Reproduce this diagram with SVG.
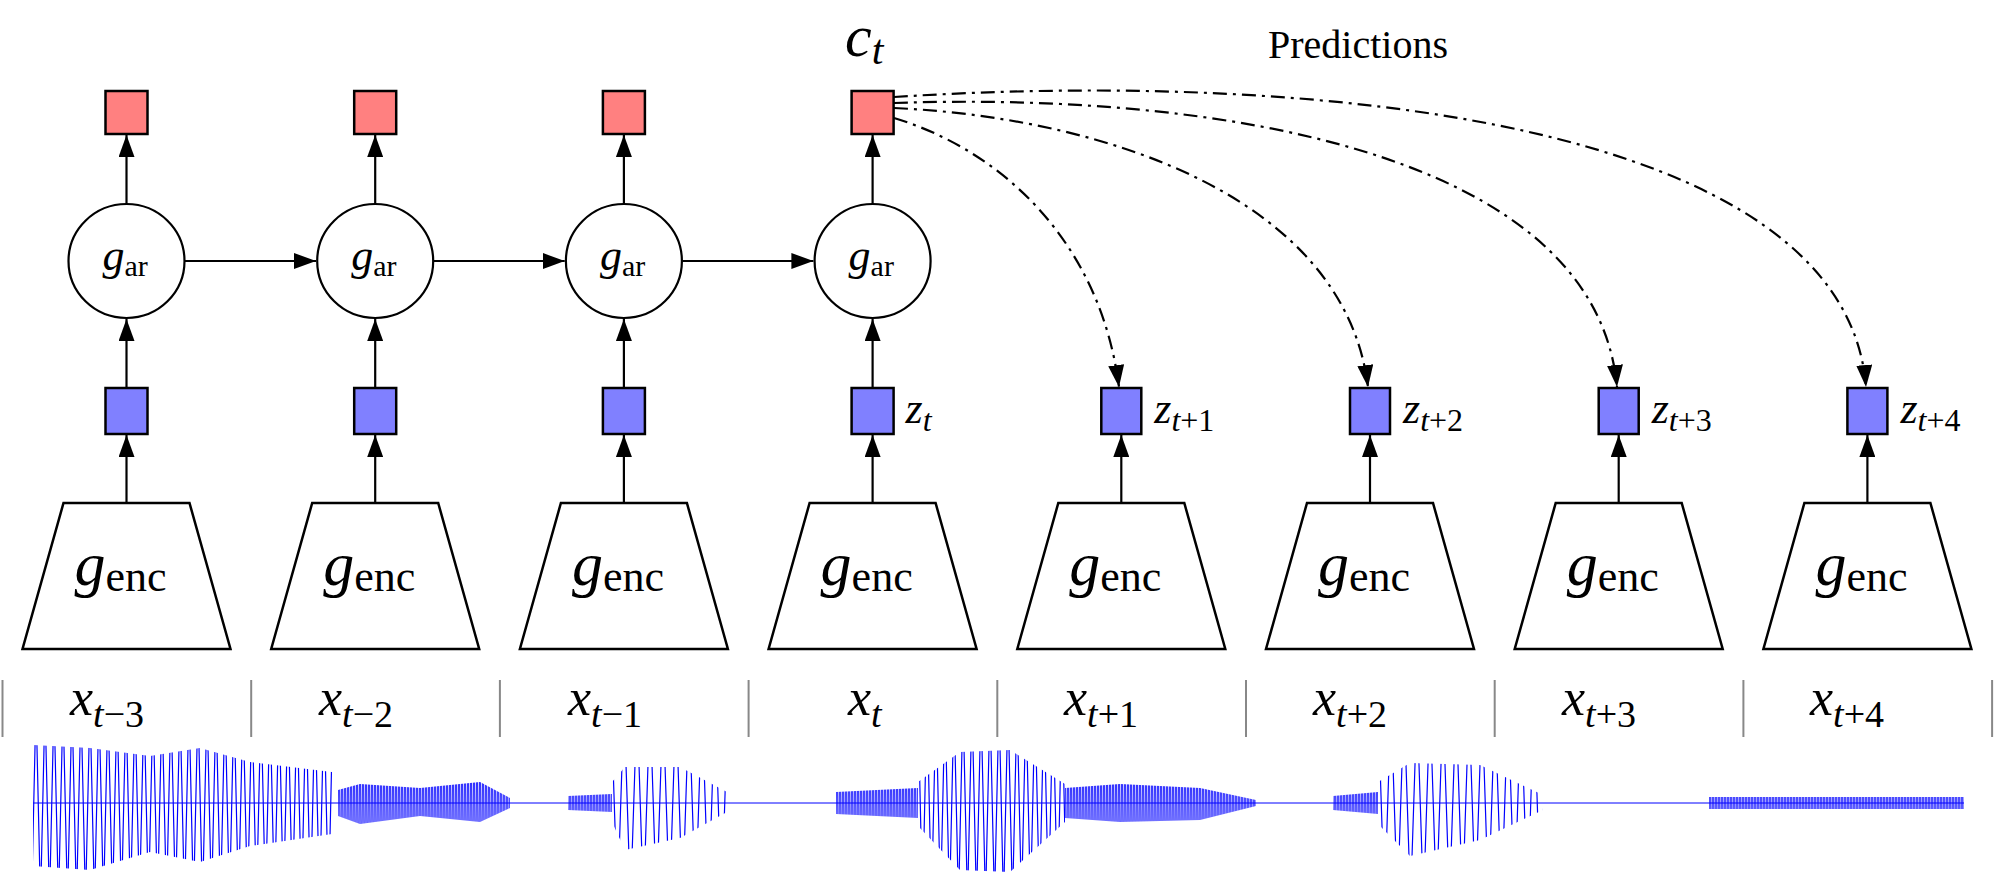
<svg xmlns="http://www.w3.org/2000/svg" width="2000" height="885" viewBox="0 0 2000 885">
<style>
.red{fill:#ff8080;stroke:#000;stroke-width:2.5}
.blue{fill:#8080ff;stroke:#000;stroke-width:2.5}
.circ{fill:#fff;stroke:#000;stroke-width:2.2}
.enc{fill:#fff;stroke:#000;stroke-width:2.5;stroke-linejoin:miter}
.ar{stroke:#000;stroke-width:2.2;fill:none;marker-end:url(#ah)}
.pred{stroke:#000;stroke-width:2.2;fill:none;stroke-dasharray:14 6 3 6;marker-end:url(#ah)}
.sep{stroke:#888;stroke-width:2}
.lbl{font-family:"Liberation Serif","DejaVu Serif",serif;fill:#000}
.m{font-family:"Liberation Serif","DejaVu Serif",serif;font-style:italic;fill:#000}
.r{font-style:normal}
</style>
<defs>
<marker id="ah" markerUnits="userSpaceOnUse" markerWidth="24" markerHeight="16" refX="22" refY="8" orient="auto"><path d="M0 0 L22 8 L0 16 z" fill="#000"/></marker>
<pattern id="osc" patternUnits="userSpaceOnUse" x="0" y="703" width="9" height="200"><path d="M0 0 L4.5 200 L9 0" fill="none" stroke="#0000ff" stroke-width="1.2"/></pattern>
<pattern id="osc2" patternUnits="userSpaceOnUse" x="0" y="703" width="13" height="200"><path d="M0 0 L6.5 200 L13 0" fill="none" stroke="#0000ff" stroke-width="1.2"/></pattern>
<pattern id="noise" patternUnits="userSpaceOnUse" x="0" y="703" width="3" height="200"><path d="M0 0 L1.5 200 L3 0" fill="none" stroke="#0000ff" stroke-width="0.9"/></pattern>
<g id="gar"><text class="m" x="-24" y="270" font-size="44">g<tspan class="r" font-size="30" dy="6">ar</tspan></text></g>
<g id="genc"><text class="m" x="-52" y="585" font-size="62">g<tspan class="r" font-size="44" dy="6">enc</tspan></text></g>
</defs>

<g id="connectors">
<line class="ar" x1="126.5" y1="204" x2="126.5" y2="135"/>
<line class="ar" x1="375.2" y1="204" x2="375.2" y2="135"/>
<line class="ar" x1="623.9" y1="204" x2="623.9" y2="135"/>
<line class="ar" x1="872.6" y1="204" x2="872.6" y2="135"/>
<line class="ar" x1="126.5" y1="388" x2="126.5" y2="319"/>
<line class="ar" x1="375.2" y1="388" x2="375.2" y2="319"/>
<line class="ar" x1="623.9" y1="388" x2="623.9" y2="319"/>
<line class="ar" x1="872.6" y1="388" x2="872.6" y2="319"/>
<line class="ar" x1="185" y1="261" x2="316" y2="261"/>
<line class="ar" x1="433.7" y1="261" x2="564.7" y2="261"/>
<line class="ar" x1="682.4" y1="261" x2="813.4" y2="261"/>
<line class="ar" x1="126.5" y1="503" x2="126.5" y2="435"/>
<line class="ar" x1="375.2" y1="503" x2="375.2" y2="435"/>
<line class="ar" x1="623.9" y1="503" x2="623.9" y2="435"/>
<line class="ar" x1="872.6" y1="503" x2="872.6" y2="435"/>
<line class="ar" x1="1121.3" y1="503" x2="1121.3" y2="435"/>
<line class="ar" x1="1370" y1="503" x2="1370" y2="435"/>
<line class="ar" x1="1618.7" y1="503" x2="1618.7" y2="435"/>
<line class="ar" x1="1867.4" y1="503" x2="1867.4" y2="435"/>
<path class="pred" d="M894 118 C1000 150 1100 240 1119 387"/>
<path class="pred" d="M894 108 C1110 118 1345 200 1368 387"/>
<path class="pred" d="M894 103 C1210 92 1595 150 1617 387"/>
<path class="pred" d="M894 97 C1310 70 1845 120 1866 387"/>
</g>

<g id="ct"><text class="m" x="845" y="56" font-size="60">c<tspan font-size="42" dy="8">t</tspan></text></g>
<g id="predictions"><text class="lbl" x="1268" y="58" font-size="40">Predictions</text></g>

<g id="col0" transform="translate(126.5,0)">
<rect class="red" x="-21" y="91" width="42" height="43"/>
<ellipse class="circ" cx="0" cy="261" rx="58" ry="57"/><use href="#gar"/>
<rect class="blue" x="-21" y="388" width="42" height="46"/>
<path class="enc" d="M-63 503 H63 L104 649 H-104 Z"/><use href="#genc"/>
</g>
<g id="col1" transform="translate(375.2,0)">
<rect class="red" x="-21" y="91" width="42" height="43"/>
<ellipse class="circ" cx="0" cy="261" rx="58" ry="57"/><use href="#gar"/>
<rect class="blue" x="-21" y="388" width="42" height="46"/>
<path class="enc" d="M-63 503 H63 L104 649 H-104 Z"/><use href="#genc"/>
</g>
<g id="col2" transform="translate(623.9,0)">
<rect class="red" x="-21" y="91" width="42" height="43"/>
<ellipse class="circ" cx="0" cy="261" rx="58" ry="57"/><use href="#gar"/>
<rect class="blue" x="-21" y="388" width="42" height="46"/>
<path class="enc" d="M-63 503 H63 L104 649 H-104 Z"/><use href="#genc"/>
</g>
<g id="col3" transform="translate(872.6,0)">
<rect class="red" x="-21" y="91" width="42" height="43"/>
<ellipse class="circ" cx="0" cy="261" rx="58" ry="57"/><use href="#gar"/>
<rect class="blue" x="-21" y="388" width="42" height="46"/>
<text class="m" x="33" y="423" font-size="44">z<tspan font-size="32" dy="8">t</tspan></text>
<path class="enc" d="M-63 503 H63 L104 649 H-104 Z"/><use href="#genc"/>
</g>
<g id="col4" transform="translate(1121.3,0)">
<rect class="blue" x="-20" y="388" width="40" height="46"/>
<text class="m" x="33" y="423" font-size="44">z<tspan font-size="32" dy="8">t<tspan class="r">+1</tspan></tspan></text>
<path class="enc" d="M-63 503 H63 L104 649 H-104 Z"/><use href="#genc"/>
</g>
<g id="col5" transform="translate(1370,0)">
<rect class="blue" x="-20" y="388" width="40" height="46"/>
<text class="m" x="33" y="423" font-size="44">z<tspan font-size="32" dy="8">t<tspan class="r">+2</tspan></tspan></text>
<path class="enc" d="M-63 503 H63 L104 649 H-104 Z"/><use href="#genc"/>
</g>
<g id="col6" transform="translate(1618.7,0)">
<rect class="blue" x="-20" y="388" width="40" height="46"/>
<text class="m" x="33" y="423" font-size="44">z<tspan font-size="32" dy="8">t<tspan class="r">+3</tspan></tspan></text>
<path class="enc" d="M-63 503 H63 L104 649 H-104 Z"/><use href="#genc"/>
</g>
<g id="col7" transform="translate(1867.4,0)">
<rect class="blue" x="-20" y="388" width="40" height="46"/>
<text class="m" x="33" y="423" font-size="44">z<tspan font-size="32" dy="8">t<tspan class="r">+4</tspan></tspan></text>
<path class="enc" d="M-63 503 H63 L104 649 H-104 Z"/><use href="#genc"/>
</g>

<g id="separators">
<line class="sep" x1="2.5" y1="680" x2="2.5" y2="737"/>
<line class="sep" x1="251.2" y1="680" x2="251.2" y2="737"/>
<line class="sep" x1="499.9" y1="680" x2="499.9" y2="737"/>
<line class="sep" x1="748.6" y1="680" x2="748.6" y2="737"/>
<line class="sep" x1="997.3" y1="680" x2="997.3" y2="737"/>
<line class="sep" x1="1246" y1="680" x2="1246" y2="737"/>
<line class="sep" x1="1494.7" y1="680" x2="1494.7" y2="737"/>
<line class="sep" x1="1743.4" y1="680" x2="1743.4" y2="737"/>
<line class="sep" x1="1992.1" y1="680" x2="1992.1" y2="737"/>
</g>

<g id="xlabels">
<text class="m" x="70" y="715" font-size="52">x<tspan font-size="38" dy="12">t<tspan class="r">−3</tspan></tspan></text>
<text class="m" x="319" y="715" font-size="52">x<tspan font-size="38" dy="12">t<tspan class="r">−2</tspan></tspan></text>
<text class="m" x="568" y="715" font-size="52">x<tspan font-size="38" dy="12">t<tspan class="r">−1</tspan></tspan></text>
<text class="m" x="848" y="715" font-size="52">x<tspan font-size="38" dy="12">t</tspan></text>
<text class="m" x="1064" y="715" font-size="52">x<tspan font-size="38" dy="12">t<tspan class="r">+1</tspan></tspan></text>
<text class="m" x="1313" y="715" font-size="52">x<tspan font-size="38" dy="12">t<tspan class="r">+2</tspan></tspan></text>
<text class="m" x="1562" y="715" font-size="52">x<tspan font-size="38" dy="12">t<tspan class="r">+3</tspan></tspan></text>
<text class="m" x="1810" y="715" font-size="52">x<tspan font-size="38" dy="12">t<tspan class="r">+4</tspan></tspan></text>
</g>

<g id="waveform">
<line x1="33" y1="803" x2="1964" y2="803" stroke="#0000ff" stroke-width="1"/>
<polygon fill="url(#osc)" points="33,745 90,748 150,756 200,748 250,762 332,772 332,834 250,846 200,862 150,852 90,870 33,866"/>
<polygon fill="url(#noise)" points="338,790 360,784 420,788 480,782 510,798 510,808 480,822 420,816 360,824 338,816"/>
<polygon fill="url(#noise)" points="568,796 612,794 612,812 568,810"/>
<polygon fill="url(#osc2)" points="612,782 625,767 680,767 727,792 727,812 680,838 625,850 612,822"/>
<polygon fill="url(#noise)" points="836,792 918,788 918,818 836,814"/>
<polygon fill="url(#osc)" points="918,782 960,752 1010,750 1065,784 1065,822 1010,872 960,870 918,826"/>
<polygon fill="url(#noise)" points="1065,788 1120,784 1200,788 1256,800 1256,806 1200,820 1120,822 1065,818"/>
<polygon fill="url(#noise)" points="1333,796 1378,792 1378,814 1333,810"/>
<polygon fill="url(#osc2)" points="1378,782 1410,763 1480,765 1543,795 1543,810 1480,840 1410,856 1378,824"/>
<polygon fill="url(#noise)" points="1709,797 1964,797 1964,809 1709,809"/>
</g>
</svg>
